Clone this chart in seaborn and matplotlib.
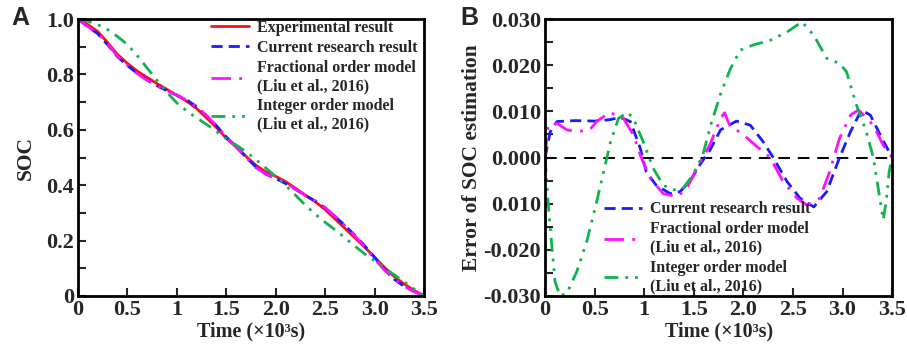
import numpy as np
import pandas as pd
import matplotlib
matplotlib.use("Agg")
import matplotlib.pyplot as plt
import seaborn as sns

# ---- data ----
time_a = [0.0, 0.1, 0.2, 0.3, 0.4, 0.5, 0.6, 0.7, 0.8, 0.9, 1.0, 1.1, 1.2, 1.3, 1.4, 1.5, 1.6, 1.7,
          1.8, 1.9, 2.0, 2.1, 2.2, 2.3, 2.4, 2.5, 2.6, 2.7, 2.8, 2.9, 3.0, 3.1, 3.2, 3.3, 3.4, 3.5]
soc_experimental = [1.000, 0.980, 0.955, 0.915, 0.872, 0.840, 0.812, 0.789, 0.767, 0.746, 0.725, 0.703,
                    0.677, 0.643, 0.608, 0.570, 0.538, 0.504, 0.472, 0.448, 0.432, 0.413, 0.389, 0.364,
                    0.340, 0.312, 0.278, 0.244, 0.210, 0.176, 0.140, 0.103, 0.070, 0.043, 0.020, 0.000]
soc_current = [1.000, 0.972, 0.947, 0.907, 0.864, 0.832, 0.804, 0.780, 0.759, 0.741, 0.725, 0.708,
               0.684, 0.651, 0.615, 0.574, 0.539, 0.501, 0.466, 0.440, 0.424, 0.406, 0.385, 0.363,
               0.343, 0.318, 0.287, 0.255, 0.219, 0.181, 0.139, 0.096, 0.060, 0.034, 0.016, 0.000]
soc_fractional = [1.000, 0.973, 0.949, 0.910, 0.866, 0.833, 0.803, 0.779, 0.759, 0.741, 0.725, 0.707,
                  0.684, 0.651, 0.616, 0.575, 0.538, 0.500, 0.463, 0.441, 0.426, 0.409, 0.386, 0.363,
                  0.343, 0.319, 0.288, 0.254, 0.217, 0.177, 0.134, 0.093, 0.060, 0.035, 0.016, 0.000]
soc_integer = [1.000, 0.992, 0.980, 0.962, 0.937, 0.908, 0.868, 0.823, 0.778, 0.735, 0.697, 0.668,
               0.643, 0.620, 0.594, 0.567, 0.545, 0.521, 0.492, 0.462, 0.431, 0.399, 0.364, 0.328,
               0.295, 0.266, 0.239, 0.210, 0.180, 0.152, 0.127, 0.101, 0.076, 0.051, 0.025, 0.000]

time_err_current = [0.0, 0.05, 0.12, 0.3, 0.5, 0.65, 0.76, 0.86, 0.96, 1.02, 1.12, 1.26, 1.36, 1.46,
                    1.56, 1.66, 1.77, 1.93, 2.07, 2.2, 2.3, 2.44, 2.57, 2.71, 2.84, 2.97, 3.08, 3.19,
                    3.28, 3.38, 3.5]
err_current = [0.0, 0.0055, 0.0078, 0.0080, 0.0079, 0.0082, 0.0087, 0.0078, 0.0020, -0.0031, -0.0060,
               -0.0078, -0.0074, -0.0052, -0.0016, 0.0015, 0.0060, 0.0079, 0.0070, 0.0034, 0.0000,
               -0.0052, -0.0088, -0.0107, -0.0074, 0.0000, 0.0056, 0.0103, 0.0092, 0.0049, 0.0000]

time_err_fractional = [0.0, 0.03, 0.12, 0.22, 0.32, 0.45, 0.52, 0.65, 0.79, 0.89, 0.96, 1.06, 1.19,
                       1.33, 1.43, 1.53, 1.66, 1.77, 1.81, 1.87, 1.97, 2.14, 2.27, 2.4, 2.54, 2.64,
                       2.77, 2.87, 2.97, 3.08, 3.16, 3.31, 3.41, 3.5]
err_fractional = [0.0, 0.0070, 0.0074, 0.0060, 0.0056, 0.0060, 0.0078, 0.0098, 0.0085, 0.0049, 0.0005,
                  -0.0045, -0.0078, -0.0085, -0.0067, -0.0023, 0.0027, 0.0085, 0.0097, 0.0065, 0.0055,
                  0.0023, 0.0000, -0.0052, -0.0088, -0.0103, -0.0088, -0.0031, 0.0042, 0.0092, 0.0103,
                  0.0070, 0.0027, 0.0000]

time_err_integer = [0.0, 0.03, 0.07, 0.1, 0.15, 0.22, 0.32, 0.42, 0.52, 0.59, 0.66, 0.74, 0.83, 0.89,
                    0.99, 1.09, 1.19, 1.29, 1.39, 1.49, 1.59, 1.67, 1.77, 1.87, 1.97, 2.1, 2.27, 2.44,
                    2.59, 2.71, 2.84, 2.97, 3.04, 3.14, 3.24, 3.31, 3.36, 3.41, 3.44, 3.47, 3.5]
err_integer = [0.0, -0.0096, -0.0197, -0.0269, -0.0300, -0.0294, -0.0247, -0.0182, -0.0096, -0.0031,
               0.0034, 0.0085, 0.0098, 0.0085, 0.0034, -0.0023, -0.0060, -0.0070, -0.0067, -0.0038,
               0.0005, 0.0070, 0.0138, 0.0193, 0.0233, 0.0244, 0.0254, 0.0272, 0.0294, 0.0265, 0.0215,
               0.0204, 0.0186, 0.0114, 0.0056, 0.0000, -0.0067, -0.0135, -0.0096, -0.0031, 0.0]

x_ticks = [0, 0.5, 1, 1.5, 2.0, 2.5, 3.0, 3.5]
x_tick_labels = ["0", "0.5", "1", "1.5", "2.0", "2.5", "3.0", "3.5"]
soc_ticks = [0, 0.2, 0.4, 0.6, 0.8, 1.0]
soc_tick_labels = ["0", "0.2", "0.4", "0.6", "0.8", "1.0"]
err_ticks = [0.03, 0.02, 0.01, 0.0, -0.01, -0.02, -0.03]
err_tick_labels = ["0.030", "0.020", "0.010", "0.000", "0.010", "-0.020", "-0.030"]

# ---- style ----
sns.set_theme(style="ticks")
plt.rcParams["font.family"] = ["Liberation Serif", "DejaVu Serif"]
plt.rcParams["font.weight"] = "bold"
plt.rcParams["axes.labelweight"] = "bold"

RED = "#ff1010"
BLUE = "#1a1aff"
MAGENTA = "#ff10ff"
GREEN = "#12b24f"
LS_CURRENT = (0, (4, 2.2))
LS_FRACTIONAL = (0, (7, 3, 1, 3))
LS_INTEGER = (0, (5, 2.5, 1, 2.5, 1, 2.5))

fig = plt.figure(figsize=(9.07, 3.54), dpi=100)
ax1 = fig.add_axes([0.086, 0.164, 0.3815, 0.782])
ax2 = fig.add_axes([0.601, 0.164, 0.3826, 0.782])

df_a = pd.DataFrame({"t": time_a, "exp": soc_experimental, "cur": soc_current,
                     "frac": soc_fractional, "int": soc_integer})

sns.lineplot(data=df_a, x="t", y="exp", ax=ax1, color=RED, lw=2, estimator=None,
             label="Experimental result")
sns.lineplot(data=df_a, x="t", y="cur", ax=ax1, color=BLUE, lw=2, estimator=None,
             linestyle=LS_CURRENT, label="Current research result")
sns.lineplot(data=df_a, x="t", y="frac", ax=ax1, color=MAGENTA, lw=2, estimator=None,
             linestyle=LS_FRACTIONAL, label="Fractional order model\n(Liu et al., 2016)")
sns.lineplot(data=df_a, x="t", y="int", ax=ax1, color=GREEN, lw=2, estimator=None,
             linestyle=LS_INTEGER, label="Integer order model\n(Liu et al., 2016)")

df_cur = pd.DataFrame({"t": time_err_current, "e": err_current})
df_frac = pd.DataFrame({"t": time_err_fractional, "e": err_fractional})
df_int = pd.DataFrame({"t": time_err_integer, "e": err_integer})

ax2.axhline(0, color="black", lw=1.4, linestyle=(0, (6, 4)))
sns.lineplot(data=df_cur, x="t", y="e", ax=ax2, color=BLUE, lw=2, estimator=None,
             linestyle=LS_CURRENT, label="Current research result")
sns.lineplot(data=df_frac, x="t", y="e", ax=ax2, color=MAGENTA, lw=2, estimator=None,
             linestyle=LS_FRACTIONAL, label="Fractional order model\n(Liu et al., 2016)")
sns.lineplot(data=df_int, x="t", y="e", ax=ax2, color=GREEN, lw=2, estimator=None,
             linestyle=LS_INTEGER, label="Integer order model\n(Liu et al., 2016)")

for ax in (ax1, ax2):
    ax.set_xlim(0, 3.5)
    ax.set_xticks(x_ticks)
    ax.set_xticklabels(x_tick_labels)
    ax.set_xlabel("Time (×10³s)", fontsize=14.5, labelpad=1)
    for s in ax.spines.values():
        s.set_linewidth(2)
        s.set_color("black")
    ax.tick_params(direction="in", length=6, width=1.5, labelsize=16, pad=3)
    ax.tick_params(which="minor", direction="in", length=6, width=1.5)

ax1.set_ylim(0, 1.0)
ax1.set_yticks(soc_ticks)
ax1.set_yticklabels(soc_tick_labels)
ax1.set_yticks(np.arange(0.1, 1.0, 0.2), minor=True)
ax1.set_ylabel("SOC", fontsize=15.5, labelpad=7)

ax2.set_ylim(-0.03, 0.03)
ax2.set_yticks(err_ticks)
ax2.set_yticklabels(err_tick_labels)
ax2.set_yticks(np.arange(-0.025, 0.03, 0.01), minor=True)
ax2.set_ylabel("Error of SOC estimation", fontsize=15.5, labelpad=1)
for ax in (ax1, ax2):
    for lab in ax.get_xticklabels() + ax.get_yticklabels():
        lab.set_fontweight("bold")

leg_kw = dict(frameon=False, handlelength=2.4, handletextpad=0.5,
              labelspacing=0.25, borderaxespad=0, prop={"weight": "bold", "size": 11.5})
ax1.legend(loc="upper left", bbox_to_anchor=(0.365, 1.02), **leg_kw)
ax2.legend(loc="upper left", bbox_to_anchor=(0.15, 0.365), **leg_kw)

fig.text(0.012, 0.93, "A", fontsize=18, fontweight="bold", family="Liberation Sans")
fig.text(0.508, 0.93, "B", fontsize=18, fontweight="bold", family="Liberation Sans")

fig.savefig("out.png", dpi=100)
